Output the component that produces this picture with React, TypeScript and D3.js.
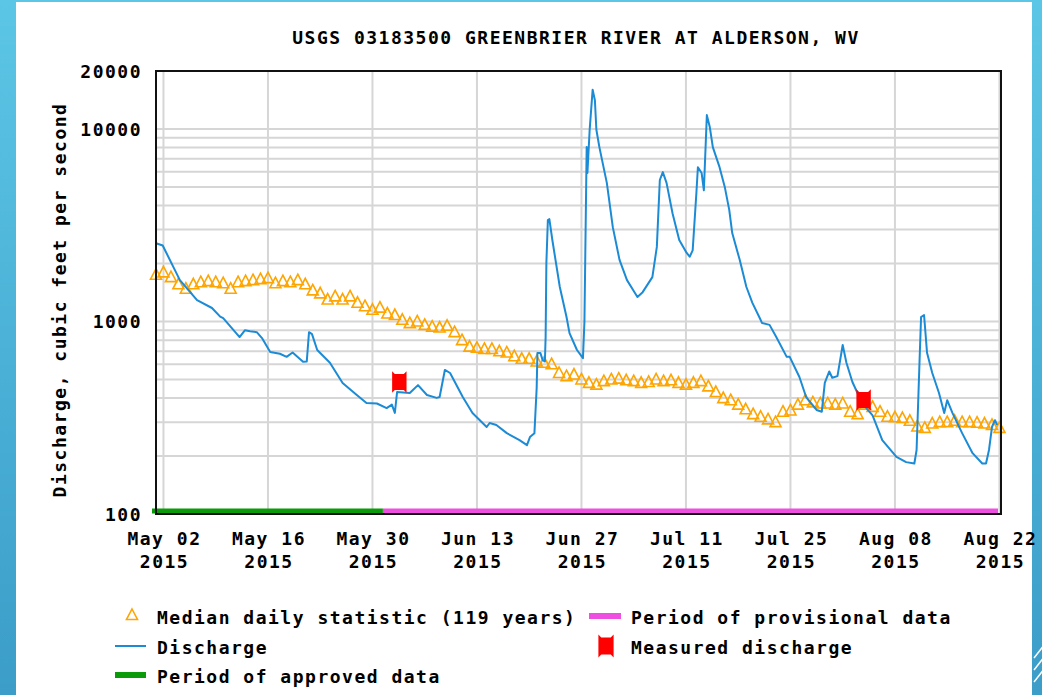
import React, { useEffect } from 'react';
import * as d3 from 'd3';

// daily median (cfs), one value per day from May 1 to Aug 22 2015
const MEDIAN_CFS = [
  1750, 1800, 1700, 1560, 1480, 1560, 1600, 1620, 1600, 1580,
  1480, 1600, 1620, 1640, 1660, 1680, 1580, 1620, 1600, 1640,
  1560, 1450, 1400, 1300, 1350, 1300, 1350, 1250, 1200, 1150,
  1180, 1100, 1080, 1020, 980, 1000, 960, 940, 930, 950,
  880, 800, 740, 730, 720, 720, 700, 690, 660, 640,
  640, 620, 610, 600, 540, 520, 530, 500, 480, 470,
  490, 500, 505, 495, 490, 480, 485, 500, 490, 495,
  480, 470, 480, 490, 460, 430, 400, 390, 370, 350,
  330, 320, 310, 300, 340, 345, 370, 390, 380, 375,
  375, 370, 375, 340, 330, 370, 360, 340, 320, 318,
  315, 305, 285, 280, 295, 300, 300, 305, 300, 300,
  298, 295, 290, 280,
];

// discharge: days since May 1 and cfs
const DISCHARGE_DAY = [
  0, 0.9, 3.2, 5.5, 7.5, 8.6, 9.0, 11.2, 11.9, 12.6, 13.5, 14.2, 15.3, 16.6, 17.5, 18.3,
  19.7, 20.2, 20.5, 20.9, 21.6, 23.3, 25.0, 26.9, 28.2, 29.6, 30.9, 31.6, 32.0, 32.3,
  34.0, 35.1, 36.3, 37.6, 38.0, 38.7, 39.4, 41.1, 42.4, 44.3, 44.7, 45.6, 47.0, 48.7,
  49.7, 50.1, 50.7, 51.0, 51.1, 51.5, 51.8, 52.1, 52.2, 52.3, 52.5, 52.7, 53.1, 54.1,
  55.0, 55.4, 56.4, 57.2, 57.4, 57.7, 57.8, 58.1, 58.5, 58.8, 59.0, 59.4, 60.4, 61.2,
  62.1, 63.1, 63.9, 64.5, 65.2, 66.5, 67.1, 67.5, 67.9, 68.4, 69.2, 70.1, 71.1, 71.5,
  71.9, 72.4, 72.6, 73.1, 73.4, 73.8, 74.2, 74.6, 75.5, 76.2, 76.8, 77.2, 78.2, 79.1,
  79.9, 80.9, 81.2, 82.2, 83.1, 84.5, 84.9, 86.2, 87.1, 88.5, 89.2, 89.6, 90.2, 90.6,
  91.3, 92.0, 92.5, 93.3, 94.6, 96.0, 97.3, 99.2, 100.5, 101.6, 101.9, 102.3, 102.5,
  102.9, 103.3, 104.0, 104.9, 105.6, 106.0, 106.7, 108.0, 109.4, 110.7, 111.2, 111.6,
  112.0, 112.4, 112.7,
];
const DISCHARGE_CFS = [
  2550, 2480, 1640, 1290, 1175, 1060, 1040, 830, 900, 890, 880, 820, 695, 680, 655, 690,
  617, 620, 880, 860, 711, 610, 479, 415, 377, 375, 355, 370, 335, 430,
  425, 467, 415, 401, 405, 560, 540, 405, 335, 283, 297, 290, 263, 242,
  228, 251, 263, 451, 686, 686, 630, 620, 830, 2014, 3365, 3400, 2650, 1510,
  1055, 870, 711, 645, 1000, 8050, 5900, 9900, 16000, 14100, 9900, 8050, 5250, 3090,
  2090, 1640, 1460, 1340, 1420, 1700, 2440, 5430, 5970, 5250, 3650, 2650, 2270, 2170,
  2340, 4660, 6330, 5900, 4800, 11800, 10200, 8050, 6330, 5000, 3800, 2880, 2090, 1510,
  1250, 1040, 981, 960, 830, 655, 655, 515, 405, 347, 340, 480, 550, 510,
  520, 755, 610, 485, 377, 325, 242, 198, 186, 183, 215, 631, 1055,
  1080, 687, 540, 425, 335, 390, 335, 263, 207, 183, 183, 215,
  283, 307, 290,
];

const MEASURED_DAY = [32.6, 94.8];
const MEASURED_CFS = [485, 391];

const APPROVED_END_DAY = 30.4;
const TICK_DATES = ['2015-05-02', '2015-05-16', '2015-05-30', '2015-06-13', '2015-06-27', '2015-07-11', '2015-07-25', '2015-08-08', '2015-08-22'];
const Y_LABELS = [100, 1000, 10000, 20000];

const TITLE = 'USGS 03183500 GREENBRIER RIVER AT ALDERSON, WV';

const font = {
  fontFamily: "'DejaVu Sans Mono', 'Liberation Mono', monospace",
  fontWeight: 700,
  fontSize: 18,
  letterSpacing: 1.5,
};

const ORANGE = '#ffa500';
const BLUE = '#1b8bd6';
const GREEN = '#0a9a0a';
const MAGENTA = '#ee4fe0';
const RED = '#ff0000';
const GRID = '#d6d6d6';

const flagPath = 'M-8,-12 L-5,-9 L5,-9 L8,-12 L8,12 L5,9 L-5,9 L-8,12 Z';
const triPath = 'M0,-6 L5.5,4.5 L-5.5,4.5 Z';

export default function App() {
  useEffect(() => {
    document.body.style.margin = '0';
  }, []);

  const start = new Date(2015, 4, 1);
  const x = d3.scaleTime().domain([start, new Date(2015, 7, 22, 5)]).range([156, 1001]);
  const dayX = (d: number) => x(d3.timeMinute.offset(start, Math.round(d * 1440)));
  const y = d3.scaleLog().domain([100, 20000]).range([514, 71]);
  const parse = d3.timeParse('%Y-%m-%d');
  const fmt = d3.timeFormat('%b %d');

  const [x0, x1] = x.range();
  const [yb, yt] = y.range();

  const line = d3.line<number>()
    .x((_, i) => dayX(DISCHARGE_DAY[i]))
    .y(d => y(d));

  return (
    <svg width={1042} height={695} style={{ position: 'fixed', left: 0, top: 0, display: 'block' }}>
      <defs>
        <linearGradient id="bg" x1="0" y1="0" x2="0" y2="1">
          <stop offset="0" stopColor="#5cc6e6" />
          <stop offset="1" stopColor="#3b9dc8" />
        </linearGradient>
      </defs>
      <rect x={0} y={0} width={1042} height={695} fill="url(#bg)" />
      <rect x={16} y={2} width={1016} height={693} fill="#fff" />
      {[0, 12, 24].map(o => (
        <line key={o} x1={1034} y1={682 - o} x2={1048} y2={664 - o} stroke="#fff" strokeWidth={1.5} />
      ))}

      <text x={576} y={44} textAnchor="middle" style={font}>{TITLE}</text>

      {/* grid */}
      {y.ticks().map(v => (
        <line key={'h' + v} x1={x0} x2={x1} y1={y(v)} y2={y(v)} stroke={GRID} strokeWidth={2} />
      ))}
      {TICK_DATES.map(t => (
        <line key={'v' + t} x1={x(parse(t)!)} x2={x(parse(t)!)} y1={yt} y2={yb} stroke={GRID} strokeWidth={2} />
      ))}

      {/* median */}
      {MEDIAN_CFS.map((v, i) => (
        <path key={'m' + i} d={triPath} transform={`translate(${dayX(i)},${y(v)})`} fill="none" stroke={ORANGE} strokeWidth={1.6} />
      ))}

      <path d={line(DISCHARGE_CFS) || ''} fill="none" stroke={BLUE} strokeWidth={2} strokeLinejoin="round" />

      {MEASURED_CFS.map((v, i) => (
        <path key={'q' + i} d={flagPath} transform={`translate(${dayX(MEASURED_DAY[i])},${y(v)}) scale(0.9)`} fill={RED} />
      ))}

      {/* data status bars */}
      <line x1={152} x2={dayX(APPROVED_END_DAY)} y1={yb - 3} y2={yb - 3} stroke={GREEN} strokeWidth={5} />
      <line x1={dayX(APPROVED_END_DAY)} x2={x1 - 3} y1={yb - 3} y2={yb - 3} stroke={MAGENTA} strokeWidth={5} />

      <rect x={x0} y={yt} width={x1 - x0} height={yb - yt} fill="none" stroke="#111" strokeWidth={2} />

      {/* y axis labels */}
      {Y_LABELS.map(v => (
        <text key={'yl' + v} x={142} y={y(v) + 7} textAnchor="end" style={font}>{v}</text>
      ))}
      <text transform="translate(66,300) rotate(-90)" textAnchor="middle" style={font}>Discharge, cubic feet per second</text>

      {/* x axis labels */}
      {TICK_DATES.map(t => {
        const d = parse(t)!;
        return (
          <g key={'xl' + t} transform={`translate(${x(d) + 1},0)`}>
            <text y={545} textAnchor="middle" style={font}>{fmt(d)}</text>
            <text y={568} textAnchor="middle" style={font}>{d.getFullYear()}</text>
          </g>
        );
      })}

      {/* legend */}
      <g>
        <path d={triPath} transform="translate(132,615)" fill="none" stroke={ORANGE} strokeWidth={1.6} />
        <text x={157} y={624} style={font}>Median daily statistic (119 years)</text>
        <line x1={115} x2={146} y1={646} y2={646} stroke={BLUE} strokeWidth={2} />
        <text x={157} y={654} style={font}>Discharge</text>
        <line x1={115} x2={146} y1={675} y2={675} stroke={GREEN} strokeWidth={6} />
        <text x={157} y={683} style={font}>Period of approved data</text>
        <line x1={589} x2={621} y1={616} y2={616} stroke={MAGENTA} strokeWidth={6} />
        <text x={631} y={624} style={font}>Period of provisional data</text>
        <path d={flagPath} transform="translate(606,646) scale(0.95)" fill={RED} />
        <text x={631} y={654} style={font}>Measured discharge</text>
      </g>
    </svg>
  );
}
